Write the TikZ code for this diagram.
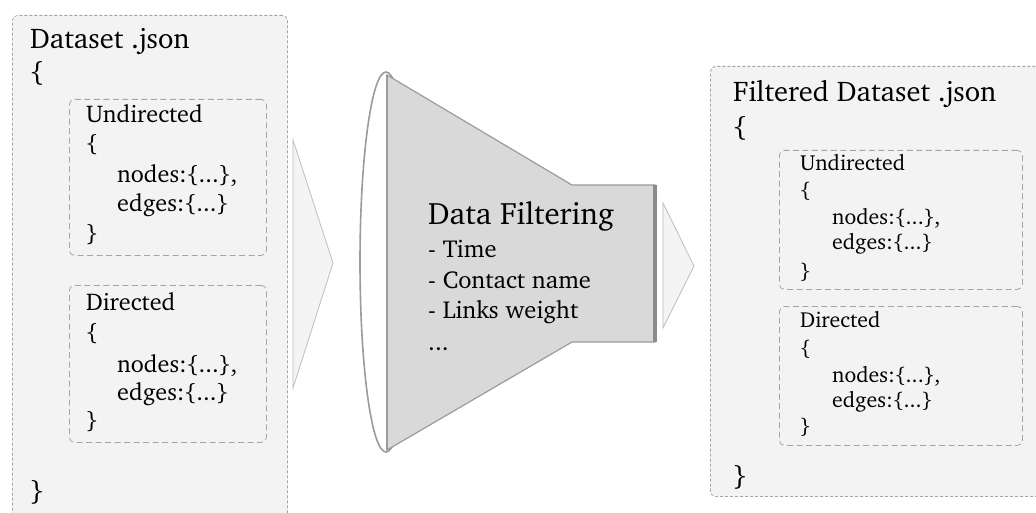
\documentclass[tikz,border=0pt]{standalone}
\usepackage[T1]{fontenc}
\usepackage{charter}
\usetikzlibrary{positioning,calc}
\definecolor{panel}{RGB}{243,243,243}
\definecolor{frame}{RGB}{165,165,165}
\definecolor{funnelfill}{RGB}{217,217,217}
\definecolor{funneledge}{RGB}{155,155,155}
\definecolor{trifill}{RGB}{244,244,244}
\definecolor{triedge}{RGB}{190,190,190}

\begin{document}
\begin{tikzpicture}[
    x=1pt, y=-1pt,
    jsonbox/.style={rectangle, draw=frame, fill=panel, line width=0.8pt,
                    dash pattern=on 3pt off 2pt, rounded corners=5pt,
                    anchor=north west, inner sep=0pt},
    groupbox/.style={jsonbox, dash pattern=on 6pt off 3.5pt},
    title/.style={anchor=base west, inner sep=0pt, font=\fontsize{28.5}{34}\selectfont},
    bigline/.style={anchor=base west, inner sep=0pt, font=\fontsize{24.2}{29}\selectfont},
    smallline/.style={anchor=base west, inner sep=0pt, font=\fontsize{21.8}{26}\selectfont},
    itemline/.style={anchor=base west, inner sep=0pt, font=\fontsize{24.5}{29}\selectfont},
    flowtri/.style={draw=triedge, fill=trifill, line width=0.8pt, line join=miter}
]
    \clip (0,0) rectangle (1036,513);
    \fill[white] (0,0) rectangle (1036,513);

    % Input dataset
    \node[jsonbox, minimum width=275pt, minimum height=520pt] (src) at (12,15) {};
    \node[title] (srcname) at (30,49) {Dataset .json};
    \node[title] (srcopen) at (30,82) {\{};
    \node[title] (srcclose) at (30,500) {\}};

    \node[groupbox, minimum width=197pt, minimum height=156pt] (srcund) at (69,99) {};
    \node[bigline] (su1) at (86,123) {Undirected};
    \node[bigline] (su2) at (86,152) {\{};
    \node[bigline] (su3) at (117,183) {nodes:\{...\},};
    \node[bigline] (su4) at (117,212) {edges:\{...\}};
    \node[bigline] (su5) at (86,241) {\}};

    \node[groupbox, minimum width=197pt, minimum height=157pt] (srcdir) at (69,285) {};
    \node[bigline] (sd1) at (86,310) {Directed};
    \node[bigline] (sd2) at (86,340) {\{};
    \node[bigline] (sd3) at (117,372) {nodes:\{...\},};
    \node[bigline] (sd4) at (117,400) {edges:\{...\}};
    \node[bigline] (sd5) at (86,428) {\}};

    % Arrow into the filter
    \draw[flowtri] (293,140) -- (333,263) -- (293,388) -- cycle;

    % Funnel
    \draw[funneledge, fill=white, line width=1.6pt] (386,262) ellipse [x radius=26, y radius=190];
    \draw[funneledge, fill=funnelfill, line width=1.2pt, line join=miter]
        (387,75) -- (572,185) -- (655,185) -- (655,342) -- (572,342) -- (387,450) -- cycle;
    \draw[funneledge, line width=2.5pt] (387,75) -- (387,450);
    \draw[funneledge!90!black, line width=3.5pt] (655,185) -- (655,342);
    \node[anchor=base west, inner sep=0pt, font=\fontsize{31}{36}\selectfont] (filter) at (428,225) {Data Filtering};
    \node[itemline] (f1) at (428,258) {- Time};
    \node[itemline] (f2) at (428,288) {- Contact name};
    \node[itemline] (f3) at (428,318) {- Links weight};
    \node[itemline] (f4) at (428,350) {...};

    % Arrow out of the filter
    \draw[flowtri] (663,203) -- (694,266) -- (663,328) -- cycle;

    % Filtered dataset
    \node[jsonbox, minimum width=345pt, minimum height=430pt] (dst) at (710,66) {};
    \node[title] (dstname) at (733,102) {Filtered Dataset .json};
    \node[title] (dstopen) at (733,137) {\{};
    \node[title] (dstclose) at (733,485) {\}};

    \node[groupbox, minimum width=243pt, minimum height=139pt] (dstund) at (779,150) {};
    \node[smallline] (du1) at (800,171) {Undirected};
    \node[smallline] (du2) at (800,198) {\{};
    \node[smallline] (du3) at (832,225) {nodes:\{...\},};
    \node[smallline] (du4) at (832,250) {edges:\{...\}};
    \node[smallline] (du5) at (800,278) {\}};

    \node[groupbox, minimum width=243pt, minimum height=139pt] (dstdir) at (779,306) {};
    \node[smallline] (dd1) at (800,327) {Directed};
    \node[smallline] (dd2) at (800,355) {\{};
    \node[smallline] (dd3) at (832,382) {nodes:\{...\},};
    \node[smallline] (dd4) at (832,407) {edges:\{...\}};
    \node[smallline] (dd5) at (800,433) {\}};
\end{tikzpicture}
\end{document}
